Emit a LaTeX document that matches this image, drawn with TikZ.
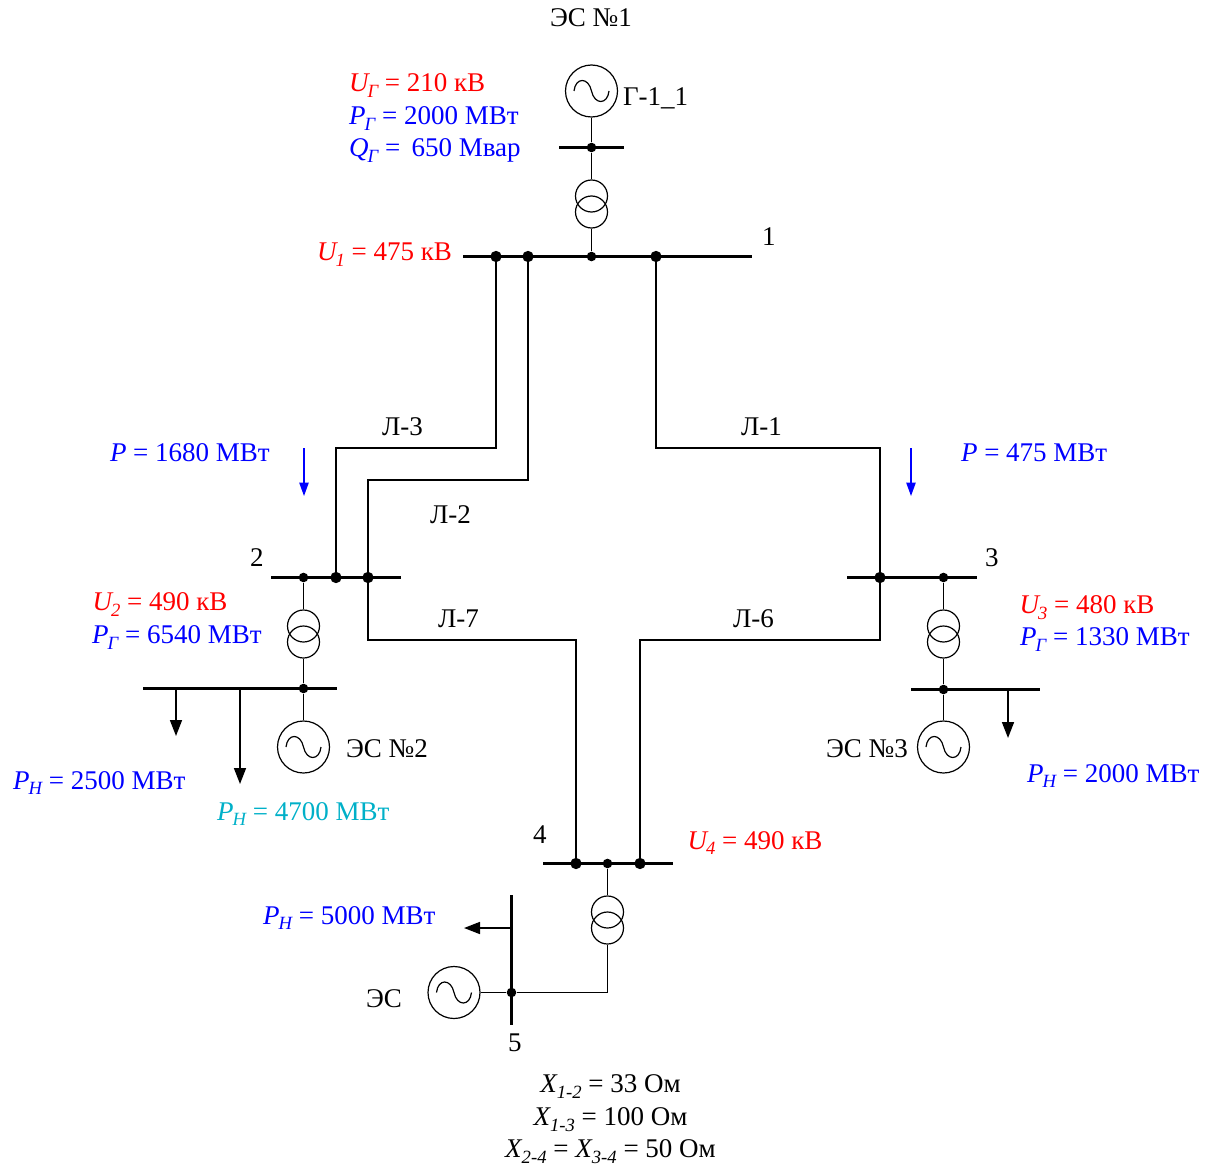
\documentclass[tikz,border=0pt]{standalone}
\usepackage{fontspec}
\setmainfont{Liberation Serif}
\usetikzlibrary{arrows.meta}
\definecolor{tred}{RGB}{255,0,0}
\definecolor{tblue}{RGB}{0,0,255}
\definecolor{tcyan}{RGB}{0,176,200}
\newcommand{\sbx}[1]{\raisebox{-0.22em}{\fontsize{14}{16}\selectfont\itshape #1}}
\newcommand{\var}[2]{\textit{#1}\kern-0.03em\relax\sbx{#2}}
\newcommand{\uvar}[2]{\textit{#1}\kern-0.09em\relax\sbx{#2}}
\tikzset{
  x=0.75pt,y=-0.75pt,
  lbl/.style={anchor=base west,inner sep=0pt,outer sep=0pt,font=\fontsize{20.25}{24}\selectfont},
  ctr/.style={lbl,anchor=base},
  busbar/.style={line width=2.4pt},
  wire/.style={line width=1.25pt},
  thin wire/.style={line width=0.9pt},
  bigdot/.style={circle,fill=black,inner sep=0pt,minimum size=8.5pt},
  smalldot/.style={circle,fill=black,inner sep=0pt,minimum size=7.2pt},
  gen/.style={circle,draw,line width=0.9pt,inner sep=0pt,minimum size=39pt},
  trafo/.style={circle,draw,line width=0.9pt,inner sep=0pt,minimum size=24pt},
  load/.style={line width=1.25pt,-{Triangle[length=12pt,width=9pt]}},
  flow/.style={line width=1pt,tblue,-{Triangle[length=10pt,width=7pt]}},
  wave/.pic={\draw[line width=0.9pt] (-17.5,0) .. controls (-16,-14) and (-3,-14) .. (0,0) .. controls (3,14) and (16,14) .. (17.5,0);}
}
\begin{document}
\begin{tikzpicture}
\useasboundingbox (0,0) rectangle (1213,1166);
% bus end points
\coordinate (bgL) at (559,147.5); \coordinate (bgR) at (624,147.5);
\coordinate (b1L) at (463,256.5); \coordinate (b1R) at (752,256.5);
\coordinate (b2L) at (271,577.5); \coordinate (b2R) at (401,577.5);
\coordinate (b2bL) at (143,688.5); \coordinate (b2bR) at (337,688.5);
\coordinate (b3L) at (847,577.5); \coordinate (b3R) at (977,577.5);
\coordinate (b3bL) at (911,689.5); \coordinate (b3bR) at (1040,689.5);
\coordinate (b4L) at (543,863.5); \coordinate (b4R) at (673,863.5);
\coordinate (b5T) at (511.5,895); \coordinate (b5B) at (511.5,1025);
\coordinate (k3) at (496,448); \coordinate (k3b) at (336,448);
\coordinate (k2) at (528,480); \coordinate (k2b) at (368,480);
\coordinate (k1) at (656,448); \coordinate (k1b) at (880,448);
\coordinate (k7) at (368,640); \coordinate (k7b) at (576,640);
\coordinate (k6) at (880,640); \coordinate (k6b) at (640,640);
\coordinate (k5) at (607.5,992.5);
\coordinate (l1s) at (176,688.5); \coordinate (l1e) at (176,736);
\coordinate (l2s) at (240,688.5); \coordinate (l2e) at (240,784);
\coordinate (l3s) at (1008,689.5); \coordinate (l3e) at (1008,738);
\coordinate (l5s) at (511.5,928); \coordinate (l5e) at (464,928);
\coordinate (f1s) at (304,448); \coordinate (f1e) at (304,496);
\coordinate (f2s) at (911,448); \coordinate (f2e) at (911,496);
% equipment
\node[gen] (g1) at (591.5,91) {}; \pic at (g1) {wave};
\node[trafo] (t1a) at (591.5,196) {}; \node[trafo] (t1b) at (591.5,212) {};
\node[gen] (g2) at (303.5,747) {}; \pic at (g2) {wave};
\node[trafo] (t2a) at (303.5,626) {}; \node[trafo] (t2b) at (303.5,642) {};
\node[gen] (g3) at (943.5,747) {}; \pic at (g3) {wave};
\node[trafo] (t3a) at (943.5,626) {}; \node[trafo] (t3b) at (943.5,642) {};
\node[gen] (g5) at (454,992.5) {}; \pic at (g5) {wave};
\node[trafo] (t4a) at (607.5,912) {}; \node[trafo] (t4b) at (607.5,928) {};
% dots
\node[smalldot] (dg) at (591.5,147.5) {};
\node[bigdot] (d13) at (496,256.5) {};
\node[bigdot] (d12) at (528,256.5) {};
\node[smalldot] (d1t) at (591.5,256.5) {};
\node[bigdot] (d11) at (656,256.5) {};
\node[smalldot] (d2t) at (303.5,577.5) {};
\node[bigdot] (d23) at (336,577.5) {};
\node[bigdot] (d22) at (368,577.5) {};
\node[smalldot] (d2g) at (303.5,688.5) {};
\node[bigdot] (d31) at (880,577.5) {};
\node[smalldot] (d3t) at (943.5,577.5) {};
\node[smalldot] (d3g) at (943.5,689.5) {};
\node[bigdot] (d47) at (576,863.5) {};
\node[smalldot] (d4t) at (607.5,863.5) {};
\node[bigdot] (d46) at (640,863.5) {};
\node[smalldot] (d5) at (511.5,992.5) {};
% bars
\foreach \a/\b in {bgL/bgR,b1L/b1R,b2L/b2R,b2bL/b2bR,b3L/b3R,b3bL/b3bR,b4L/b4R,b5T/b5B}
  \draw[busbar] (\a) -- (\b);
% lines
\draw[wire] (d13) -- (k3) -- (k3b) -- (d23);
\draw[wire] (d12) -- (k2) -- (k2b) -- (d22);
\draw[wire] (d11) -- (k1) -- (k1b) -- (d31);
\draw[wire] (d22) -- (k7) -- (k7b) -- (d47);
\draw[wire] (d31) -- (k6) -- (k6b) -- (d46);
% equipment connections
\draw[thin wire] (g1) -- (dg) -- (t1a);
\draw[thin wire] (t1b) -- (d1t);
\draw[thin wire] (d2t) -- (t2a) (t2b) -- (d2g) -- (g2);
\draw[thin wire] (d3t) -- (t3a) (t3b) -- (d3g) -- (g3);
\draw[thin wire] (d4t) -- (t4a);
\draw[thin wire] (t4b) -- (k5) -- (d5) -- (g5);
% loads
\draw[load] (l1s) -- (l1e);
\draw[load] (l2s) -- (l2e);
\draw[load] (l3s) -- (l3e);
\draw[load] (l5s) -- (l5e);
\draw[flow] (f1s) -- (f1e);
\draw[flow] (f2s) -- (f2e);
% labels
\node[lbl] (es1) at (550,27) {ЭС №1};
\node[lbl,tred] (ug) at (349,92) {\uvar{U}{Г} = 210 кВ};
\node[lbl,tblue] (pg) at (349,125) {\var{P}{Г} = 2000 МВт};
\node[lbl,tblue] (qg) at (349,157) {\var{Q}{Г} = \,650 Мвар};
\node[lbl] (g11) at (623,106) {Г-1\_1};
\node[lbl,tred] (u1) at (317,261) {\uvar{U}{1} = 475 кВ};
\node[lbl] (n1) at (762,245.5) {1};
\node[lbl] (l3) at (382,435.5) {Л-3};
\node[lbl] (l1) at (741,435.5) {Л-1};
\node[lbl] (l2) at (430,523.5) {Л-2};
\node[lbl] (l7) at (438,627.5) {Л-7};
\node[lbl] (l6) at (733,627.5) {Л-6};
\node[lbl,tblue] (p1680) at (110,461.5) {\textit{P} = 1680 МВт};
\node[lbl,tblue] (p475) at (961,461.5) {\textit{P} = 475 МВт};
\node[lbl] (n2) at (250,566.5) {2};
\node[lbl] (n3) at (985,566.5) {3};
\node[lbl,tred] (u2) at (92.5,610.5) {\uvar{U}{2} = 490 кВ};
\node[lbl,tblue] (pg2) at (92,643.5) {\var{P}{Г} = 6540 МВт};
\node[lbl,tred] (u3) at (1019.5,613.5) {\uvar{U}{3} = 480 кВ};
\node[lbl,tblue] (pg3) at (1020,645.5) {\var{P}{Г} = 1330 МВт};
\node[lbl] (es2) at (346,757) {ЭС №2};
\node[lbl] (es3) at (826,757) {ЭС №3};
\node[lbl,tblue] (ph1) at (13,789) {\var{P}{Н} = 2500 МВт};
\node[lbl,tcyan] (ph2) at (217,820) {\var{P}{Н} = 4700 МВт};
\node[lbl,tblue] (ph3) at (1027,782) {\var{P}{Н} = 2000 МВт};
\node[lbl] (n4) at (533,843) {4};
\node[lbl,tred] (u4) at (687.5,849) {\uvar{U}{4} = 490 кВ};
\node[lbl,tblue] (ph5) at (263,924) {\var{P}{Н} = 5000 МВт};
\node[lbl] (es5) at (366,1007) {ЭС};
\node[lbl] (n5) at (508,1051.5) {5};
\node[ctr] (x12) at (610.5,1092.5) {\var{X}{1-2} = 33 Ом};
\node[ctr] (x13) at (610.5,1125.5) {\var{X}{1-3} = 100 Ом};
\node[ctr] (x24) at (610.5,1157.5) {\var{X}{2-4} = \var{X}{3-4} = 50 Ом};
\end{tikzpicture}
\end{document}
